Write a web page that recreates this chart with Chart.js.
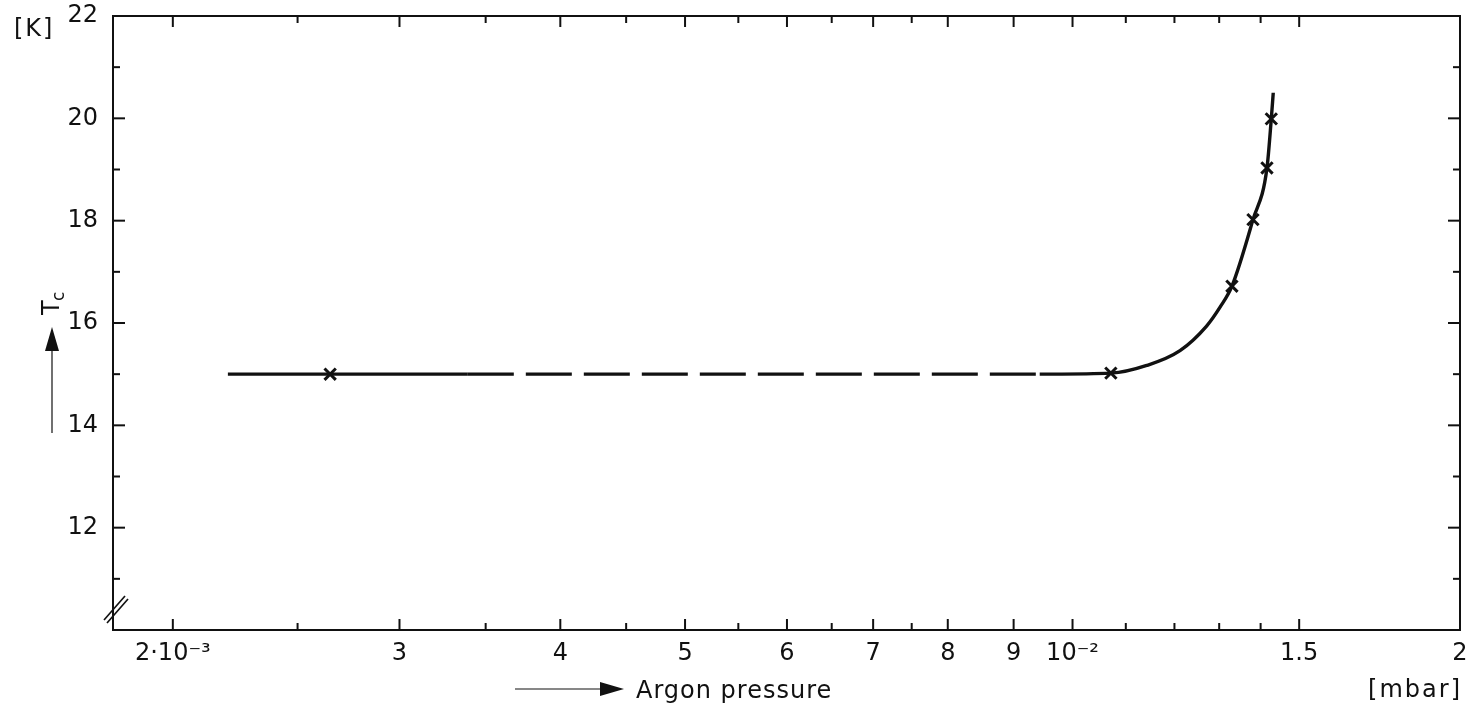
<!DOCTYPE html>
<html>
<head>
<meta charset="utf-8">
<script src="https://cdn.jsdelivr.net/npm/chart.js@4"></script>
<style>
  body { margin: 0; background: #fff; }
  canvas { display: block; }
</style>
</head>
<body>
<canvas id="tcChart" width="1475" height="708"></canvas>
<script>
// ==========================================
// =  DATA (argon pressure in mbar, Tc in K) =
// ==========================================
const solidLeftP = [2.207e-3, 3.39e-3];
const solidLeftT = [15.0, 15.0];

const dashedP = [3.39e-3, 9.43e-3];
const dashedT = [15.0, 15.0];

const curveP = [9.43e-3, 10.71e-3, 11.42e-3, 12.12e-3, 12.71e-3, 13.02e-3, 13.3e-3, 13.81e-3, 14.16e-3, 14.27e-3, 14.32e-3];
const curveT = [15.0, 15.02, 15.17, 15.46, 15.94, 16.31, 16.72, 18.02, 19.03, 19.99, 20.5];

const measuredP = [2.65e-3, 10.71e-3, 13.3e-3, 13.81e-3, 14.16e-3, 14.27e-3];
const measuredT = [15.0, 15.02, 16.72, 18.02, 19.03, 19.99];

const xTickValues = [2e-3, 2.5e-3, 3e-3, 3.5e-3, 4e-3, 4.5e-3, 5e-3, 5.5e-3, 6e-3, 6.5e-3, 7e-3, 7.5e-3, 8e-3, 9e-3, 10e-3, 11e-3, 12e-3, 13e-3, 14e-3, 15e-3, 20e-3];
const xTickLabels = ["2·10⁻³", "", "3", "", "4", "", "5", "", "6", "", "7", "", "8", "9", "10⁻²", "", "", "", "", "1.5", "2"];

const yTickValues = [10, 11, 12, 13, 14, 15, 16, 17, 18, 19, 20, 21, 22];
const yTickLabels = ["", "", "12", "", "14", "", "16", "", "18", "", "20", "", "22"];

const FONT = "DejaVu Sans";
const INK = "#111";

const toPts = (xs, ys) => xs.map((v, i) => ({ x: v, y: ys[i] }));

// ==========================================
// =  FRAME, INSIDE TICKS AND ANNOTATIONS   =
// ==========================================
const frameTicks = {
  id: "frameTicks",
  afterDraw(chart) {
    const { ctx, chartArea: a, scales } = chart;
    const x = scales.x, y = scales.y;
    const seg = (x1, y1, x2, y2) => {
      ctx.beginPath();
      ctx.moveTo(x1, y1);
      ctx.lineTo(x2, y2);
      ctx.stroke();
    };
    ctx.save();
    ctx.strokeStyle = INK;
    ctx.fillStyle = INK;
    ctx.lineWidth = 2;
    ctx.strokeRect(a.left, a.top, a.right - a.left, a.bottom - a.top);

    // ticks point inward, mirrored on top and right
    x.ticks.forEach((t, i) => {
      const px = x.getPixelForValue(t.value);
      const len = xTickLabels[i] ? 11 : 7;
      seg(px, a.bottom, px, a.bottom - len);
      seg(px, a.top, px, a.top + len);
    });
    y.ticks.forEach((t, i) => {
      const py = y.getPixelForValue(t.value);
      const len = yTickLabels[i] ? 12 : 7;
      seg(a.left, py, a.left + len, py);
      seg(a.right, py, a.right - len, py);
    });

    // axis break mark at the bottom left
    ctx.lineWidth = 1.6;
    seg(a.left - 9, a.bottom - 10, a.left + 12, a.bottom - 34);
    seg(a.left - 6, a.bottom - 7, a.left + 15, a.bottom - 31);

    // unit labels
    ctx.font = "24px " + FONT;
    ctx.textBaseline = "alphabetic";
    ctx.letterSpacing = "2px";
    ctx.textAlign = "left";
    ctx.fillText("[K]", 14, 36);
    ctx.textAlign = "right";
    ctx.fillText("[mbar]", 1462, 697);
    ctx.letterSpacing = "1px";

    // x axis title with arrow
    ctx.textAlign = "left";
    ctx.fillText("Argon pressure", 636, 698);
    ctx.lineWidth = 1.2;
    seg(515, 689, 602, 689);
    ctx.beginPath();
    ctx.moveTo(624, 689);
    ctx.lineTo(600, 682);
    ctx.lineTo(600, 696);
    ctx.closePath();
    ctx.fill();

    // y axis title (rotated) with arrow
    ctx.save();
    ctx.translate(59, 315);
    ctx.rotate(-Math.PI / 2);
    ctx.letterSpacing = "0px";
    ctx.font = "24px " + FONT;
    ctx.fillText("T", 0, 0);
    ctx.font = "17px " + FONT;
    ctx.fillText("c", 14, 5);
    ctx.restore();
    seg(52, 348, 52, 433);
    ctx.beginPath();
    ctx.moveTo(52, 327);
    ctx.lineTo(45, 351);
    ctx.lineTo(59, 351);
    ctx.closePath();
    ctx.fill();
    ctx.restore();
  },
};

// ==========================================
// =  CHART                                 =
// ==========================================
const lineBase = {
  borderColor: INK,
  borderWidth: 3.4,
  pointRadius: 0,
  fill: false,
};

new Chart(document.getElementById("tcChart"), {
  type: "line",
  data: {
    datasets: [
      {
        label: "measured",
        data: toPts(measuredP, measuredT),
        showLine: false,
        pointStyle: "crossRot",
        pointRadius: 8,
        pointBorderWidth: 3,
        pointBorderColor: INK,
        pointBackgroundColor: INK,
      },
      { ...lineBase, label: "solid", data: toPts(solidLeftP, solidLeftT) },
      { ...lineBase, label: "dashed", data: toPts(dashedP, dashedT), borderDash: [46, 12] },
      { ...lineBase, label: "curve", data: toPts(curveP, curveT), cubicInterpolationMode: "monotone" },
    ],
  },
  options: {
    responsive: false,
    animation: false,
    devicePixelRatio: 1,
    layout: { padding: { left: 0, top: 16, right: 15, bottom: 0 } },
    plugins: { legend: { display: false }, tooltip: { enabled: false } },
    scales: {
      x: {
        type: "logarithmic",
        min: 1.797e-3,
        max: 2e-2,
        afterBuildTicks: (s) => { s.ticks = xTickValues.map((v) => ({ value: v })); },
        afterFit: (s) => { s.height = 78; s.paddingLeft = 0; s.paddingRight = 0; },
        grid: { display: false, drawTicks: false },
        border: { display: false },
        ticks: {
          autoSkip: false,
          maxRotation: 0,
          padding: 9,
          color: INK,
          font: { family: FONT, size: 24 },
          callback: (v, i) => xTickLabels[i],
        },
      },
      y: {
        type: "linear",
        min: 10,
        max: 22,
        afterBuildTicks: (s) => { s.ticks = yTickValues.map((v) => ({ value: v })); },
        afterFit: (s) => { s.width = 113; s.paddingTop = 0; s.paddingBottom = 0; },
        grid: { display: false, drawTicks: false },
        border: { display: false },
        ticks: {
          autoSkip: false,
          padding: 15,
          color: INK,
          font: { family: FONT, size: 24 },
          callback: (v, i) => yTickLabels[i],
        },
      },
    },
  },
  plugins: [frameTicks],
});
</script>
</body>
</html>
